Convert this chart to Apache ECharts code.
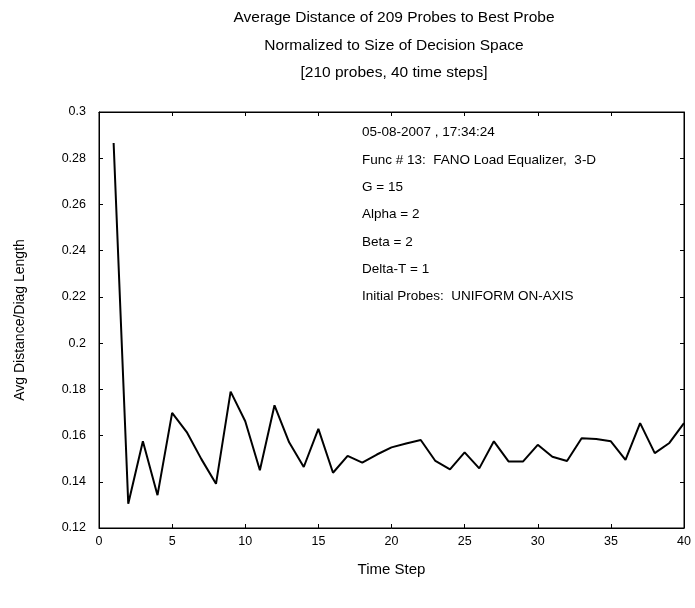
<!DOCTYPE html>
<html>
<head>
<meta charset="utf-8">
<script src="https://cdn.jsdelivr.net/npm/echarts@6/dist/echarts.min.js"></script>
<style>
  html, body { margin: 0; padding: 0; background: #fff; }
  #chart { width: 695px; height: 608px; }
</style>
</head>
<body>
<div id="chart"></div>
<script>
  // time steps and avg distance values
  var timeSteps = [1, 2, 3, 4, 5, 6, 7, 8, 9, 10,
    11, 12, 13, 14, 15, 16, 17, 18, 19, 20,
    21, 22, 23, 24, 25, 26, 27, 28, 29, 30,
    31, 32, 33, 34, 35, 36, 37, 38, 39, 40]
  var avgDist = [0.2866, 0.1305, 0.1575, 0.1342, 0.1698, 0.1615, 0.1498, 0.1391, 0.179, 0.1662,
    0.145, 0.1731, 0.1571, 0.1464, 0.1629, 0.1439, 0.1512, 0.1483, 0.1518, 0.1549,
    0.1566, 0.1581, 0.149, 0.1454, 0.1527, 0.1458, 0.1575, 0.1488, 0.1488, 0.156,
    0.1508, 0.149, 0.1588, 0.1585, 0.1575, 0.1495, 0.1654, 0.1524, 0.1568, 0.1654]
  var titleLines = [
    'Average Distance of 209 Probes to Best Probe',
    'Normalized to Size of Decision Space',
    '[210 probes, 40 time steps]'
  ]
  var infoLines = [
    '05-08-2007 , 17:34:24',
    'Func # 13:  FANO Load Equalizer,  3-D',
    'G = 15',
    'Alpha = 2',
    'Beta = 2',
    'Delta-T = 1',
    'Initial Probes:  UNIFORM ON-AXIS'
  ]

  var font = 'Liberation Sans, Arial, sans-serif'
  var chart = echarts.init(document.getElementById('chart'))

  function axisBase() {
    return {
      axisLine: {show: true, onZero: false, lineStyle: {color: '#000', width: 1}},
      axisTick: {show: true, inside: true, length: 4, lineStyle: {color: '#000'}},
      splitLine: {show: false}
    }
  }

  chart.setOption({
    animation: false,
    backgroundColor: '#fff',
    title: {
      text: titleLines.join('\n'),
      left: 389,
      top: -1,
      textAlign: 'center',
      textStyle: {fontFamily: font, fontSize: 15.5, fontWeight: 'normal', color: '#000', lineHeight: 27.5}
    },
    grid: {left: 99, right: 11, top: 112, bottom: 80, show: true, borderColor: '#000', borderWidth: 1},
    xAxis: [
      Object.assign(axisBase(), {
        type: 'value', min: 0, max: 40, interval: 5, position: 'bottom',
        name: 'Time Step', nameLocation: 'middle', nameGap: 34,
        nameTextStyle: {fontFamily: font, fontSize: 15, color: '#000'},
        axisLabel: {fontFamily: font, fontSize: 12.5, color: '#000', margin: 7}
      }),
      Object.assign(axisBase(), {
        type: 'value', min: 0, max: 40, interval: 5, position: 'top',
        axisLabel: {show: false}
      })
    ],
    yAxis: [
      Object.assign(axisBase(), {
        type: 'value', min: 0.12, max: 0.3, interval: 0.02, position: 'left',
        name: 'Avg Distance/Diag Length', nameLocation: 'middle', nameGap: 72,
        nameTextStyle: {fontFamily: font, fontSize: 14, color: '#000'},
        axisLabel: {fontFamily: font, fontSize: 12.5, color: '#000', margin: 13}
      }),
      Object.assign(axisBase(), {
        type: 'value', min: 0.12, max: 0.3, interval: 0.02, position: 'right',
        axisLabel: {show: false}
      })
    ],
    graphic: [{
      type: 'text',
      left: 362,
      top: 119,
      style: {
        text: infoLines.join('\n'),
        fontFamily: font,
        fontSize: 13.5,
        lineHeight: 27.3,
        fill: '#000'
      }
    }],
    series: [{
      type: 'line',
      data: timeSteps.map(function (t, i) { return [t, avgDist[i]] }),
      showSymbol: false,
      lineStyle: {color: '#000', width: 2},
      itemStyle: {color: '#000'}
    }, {
      // empty series so the top/right axes get drawn with their ticks
      type: 'line',
      xAxisIndex: 1,
      yAxisIndex: 1,
      data: [],
      showSymbol: false
    }]
  })
</script>
</body>
</html>
